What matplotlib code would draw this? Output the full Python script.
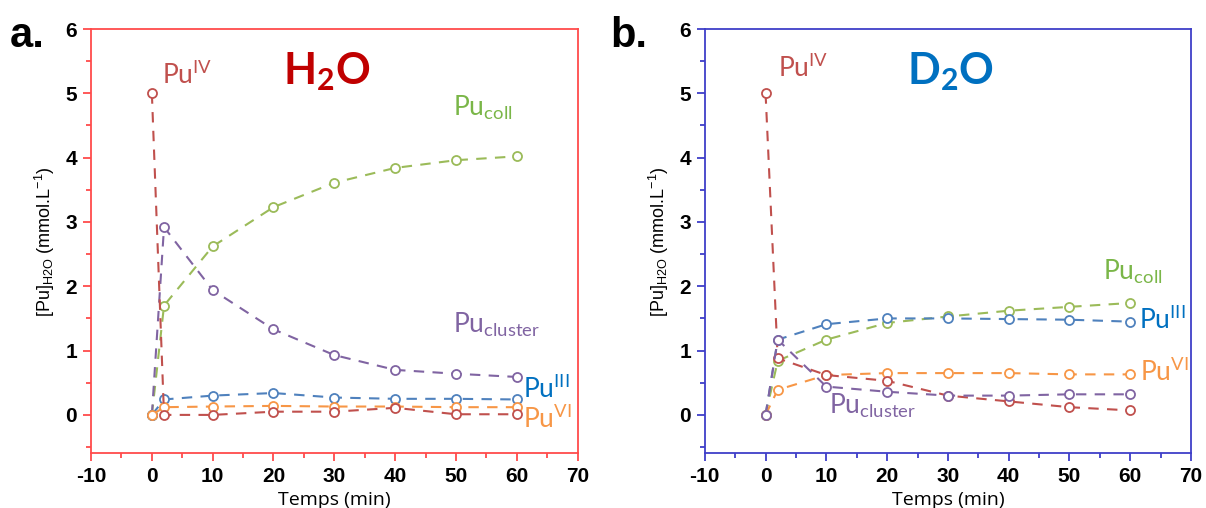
import numpy as np
import matplotlib
matplotlib.use("Agg")
import matplotlib.pyplot as plt
from matplotlib.ticker import MultipleLocator

plt.rcParams['font.family'] = ['Liberation Sans', 'DejaVu Sans']
plt.rcParams['axes.unicode_minus'] = False

# time points (min)
t = [0, 2, 10, 20, 30, 40, 50, 60]

# panel a : H2O
h2o_iv = [5.0, 0.0, 0.0, 0.05, 0.05, 0.11, 0.01, 0.01]
h2o_coll = [0.0, 1.70, 2.62, 3.23, 3.61, 3.84, 3.96, 4.02]
h2o_cluster = [0.0, 2.92, 1.94, 1.33, 0.93, 0.70, 0.64, 0.59]
h2o_iii = [0.0, 0.24, 0.30, 0.34, 0.27, 0.25, 0.25, 0.24]
h2o_vi = [0.0, 0.12, 0.13, 0.14, 0.13, 0.13, 0.12, 0.12]

# panel b : D2O
d2o_iv = [5.0, 0.88, 0.62, 0.53, 0.30, 0.21, 0.12, 0.07]
d2o_coll = [0.0, 0.84, 1.17, 1.43, 1.53, 1.62, 1.68, 1.74]
d2o_cluster = [0.0, 1.17, 0.44, 0.36, 0.30, 0.30, 0.32, 0.32]
d2o_iii = [0.0, 1.17, 1.41, 1.50, 1.50, 1.49, 1.48, 1.45]
d2o_vi = [0.0, 0.39, 0.62, 0.65, 0.65, 0.65, 0.63, 0.63]

c_iv = '#C0504D'
c_coll = '#9BBB59'
c_cluster = '#8064A2'
c_iii = '#4F81BD'
c_vi = '#F79646'

fig = plt.figure(figsize=(12.06, 5.08), dpi=100)
ax1 = fig.add_axes([0.0755, 0.1073, 0.4034, 0.8356])
ax2 = fig.add_axes([0.5844, 0.1073, 0.4032, 0.8356])


def draw(ax, series, spine_col):
    for y, c in series:
        ax.plot(t, y, ls=(0, (5, 4)), lw=1.5, color=c, marker='o', ms=6.5,
                mfc='white', mec=c, mew=1.3)
    ax.set_xlim(-10, 70)
    ax.set_ylim(-0.6, 6)
    ax.xaxis.set_major_locator(MultipleLocator(10))
    ax.xaxis.set_minor_locator(MultipleLocator(5))
    ax.yaxis.set_major_locator(MultipleLocator(1))
    ax.yaxis.set_minor_locator(MultipleLocator(0.5))
    ax.set_yticks([0, 1, 2, 3, 4, 5, 6])
    for s in ax.spines.values():
        s.set_color(spine_col)
        s.set_linewidth(1.3)
    ax.tick_params(which='both', direction='out', color=spine_col, width=1.3)
    ax.tick_params(which='major', length=6, labelsize=15, pad=4)
    ax.tick_params(which='minor', length=3.5)
    for lb in ax.get_xticklabels() + ax.get_yticklabels():
        lb.set_fontweight('bold')
    ax.set_xlabel('Temps (min)', fontsize=14, family='Open Sans', labelpad=3)
    ax.set_ylabel(r'[Pu]$_\mathregular{H2O}$ (mmol.L$^\mathregular{-1}$)',
                  fontsize=13, labelpad=6)


draw(ax1, [(h2o_coll, c_coll), (h2o_cluster, c_cluster), (h2o_iii, c_iii),
           (h2o_vi, c_vi), (h2o_iv, c_iv)], '#FF4B4B')
draw(ax2, [(d2o_coll, c_coll), (d2o_iii, c_iii), (d2o_vi, c_vi),
           (d2o_iv, c_iv), (d2o_cluster, c_cluster)], '#3F3FC8')

lab = dict(fontsize=19, family='Lato', va='baseline', ha='left')
ax1.text(1.6, 5.14, r'Pu$^\mathregular{IV}$', color=c_iv, **lab)
ax1.text(49.6, 4.66, r'Pu$_\mathregular{coll}$', color='#7AB648', **lab)
ax1.text(49.6, 1.28, r'Pu$_\mathregular{cluster}$', color=c_cluster, **lab)
ax1.text(61.0, 0.27, r'Pu$^\mathregular{III}$', color='#0070C0', **lab)
ax1.text(61.0, -0.21, r'Pu$^\mathregular{VI}$', color=c_vi, **lab)

ax2.text(2.1, 5.25, r'Pu$^\mathregular{IV}$', color=c_iv, **lab)
ax2.text(55.5, 2.11, r'Pu$_\mathregular{coll}$', color='#7AB648', **lab)
ax2.text(61.5, 1.33, r'Pu$^\mathregular{III}$', color='#0070C0', **lab)
ax2.text(61.6, 0.53, r'Pu$^\mathregular{VI}$', color=c_vi, **lab)
ax2.text(10.5, 0.02, r'Pu$_\mathregular{cluster}$', color=c_cluster, **lab)

ax1.text(0.485, 0.90, r'H$_\mathregular{2}$O', transform=ax1.transAxes,
         fontsize=31, fontweight='bold', family='Lato', color='#C00000',
         ha='center', va='center')
ax2.text(0.505, 0.90, r'D$_\mathregular{2}$O', transform=ax2.transAxes,
         fontsize=31, fontweight='bold', family='Lato', color='#0070C0',
         ha='center', va='center')

fig.text(0.008, 0.93, 'a.', fontsize=30, fontweight='bold', va='center')
fig.text(0.506, 0.93, 'b.', fontsize=30, fontweight='bold', va='center')

fig.savefig('out.png', dpi=100)
